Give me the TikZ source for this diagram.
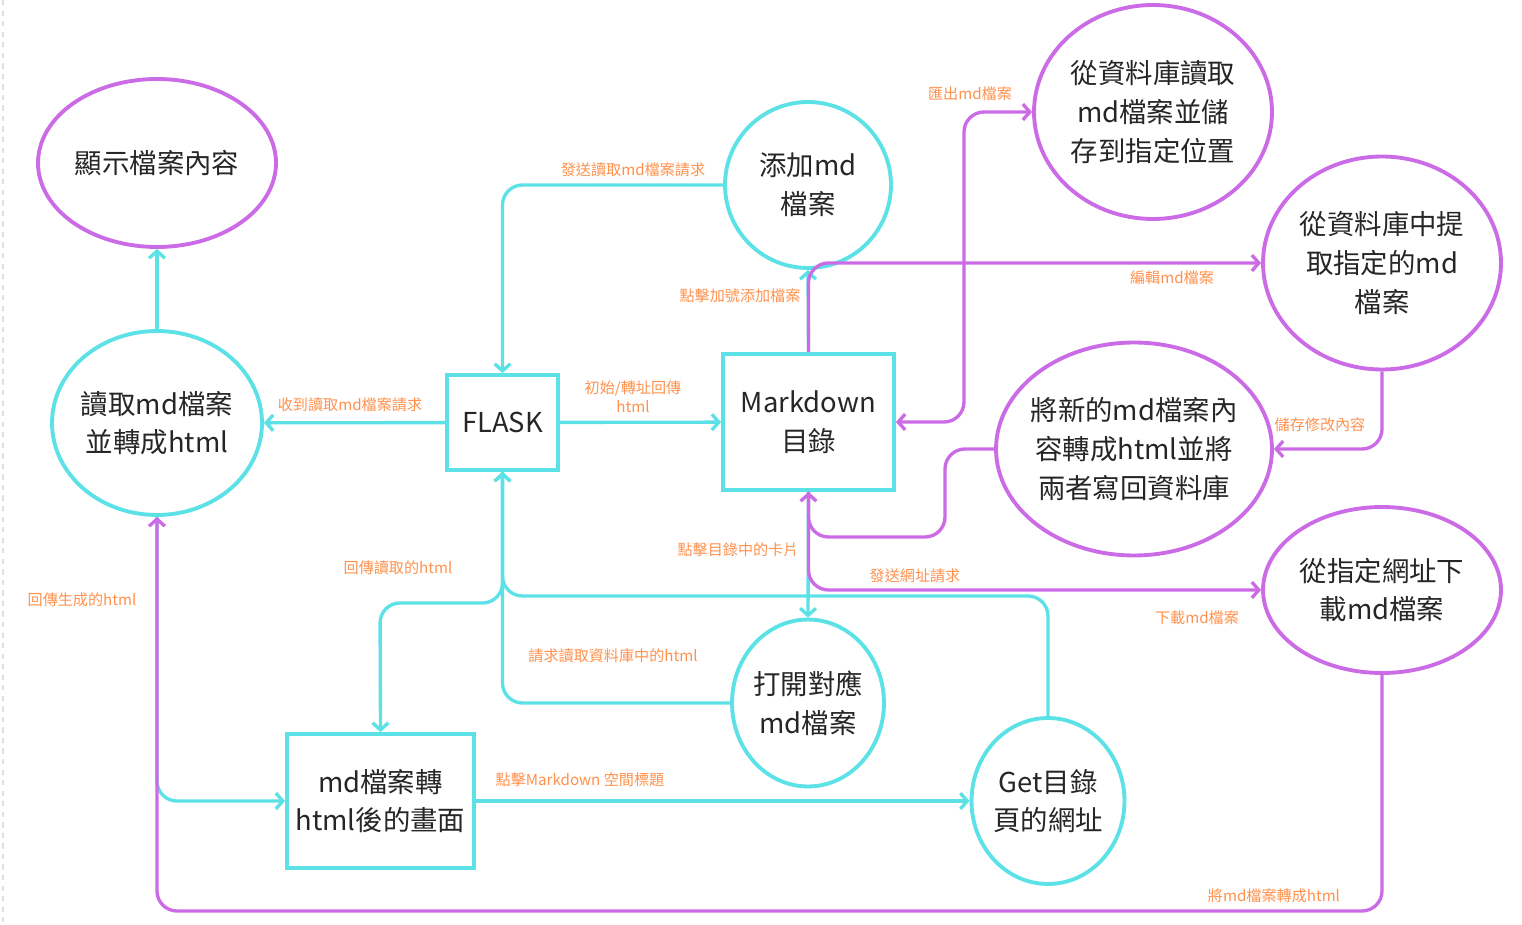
\documentclass[tikz,border=0pt]{standalone}
\usepackage{fontspec}
\newfontfamily\cjk{Noto Sans CJK TC}
\usepackage{xcolor}
\definecolor{colorFlow}{HTML}{5CE1E6}
\definecolor{colorEdit}{HTML}{CB6CE6}
\definecolor{colorLabel}{HTML}{FF914D}
\definecolor{colorText}{HTML}{262626}
\usepackage{tikz}
\usetikzlibrary{arrows.meta, shapes.geometric, positioning}
\tikzset{
  proc/.style={ellipse, draw, line width=2.2pt, inner sep=-4pt, align=center, text=colorText, font=\cjk\fontsize{15.6}{22}\selectfont},
  box/.style={rectangle, draw=colorFlow, line width=2.2pt, inner sep=0pt, align=center, text=colorText, font=\cjk\fontsize{15.6}{22}\selectfont},
  lbl/.style={inner sep=1pt, align=center, text=colorLabel, font=\cjk\fontsize{8.6}{11}\selectfont},
  flow/.style={->, colorFlow, rounded corners=0.4cm},
  edit/.style={->, colorEdit, rounded corners=0.4cm},
}

\begin{document}
\begin{tikzpicture}[x=0.02cm, y=-0.02cm, line width=1.9pt, >={Straight Barb[length=4pt,width=9pt]}]
\useasboundingbox (0,0) rectangle (1522,925);
\draw [black!12, dashed, line width=0.6pt] (3,0) -- (3,925);

% nodes
\node[proc, draw=colorEdit, minimum width=4.76cm, minimum height=3.36cm] (show) at (157,163) {顯示檔案內容};
\node[proc, draw=colorFlow, minimum width=4.2cm, minimum height=3.68cm] (read) at (157,423) {讀取md檔案\\並轉成html};
\node[box, minimum width=2.22cm, minimum height=1.9cm] (flask) at (502.5,422.5) {FLASK};
\node[box, minimum width=3.42cm, minimum height=2.72cm] (md) at (808.5,422) {Markdown\\目錄};
\node[proc, draw=colorFlow, minimum width=3.32cm, minimum height=3.32cm] (add) at (808,185) {添加md\\檔案};
\node[proc, draw=colorEdit, minimum width=4.76cm, minimum height=4.28cm] (export) at (1153,112) {從資料庫讀取\\md檔案並儲\\存到指定位置};
\node[proc, draw=colorEdit, minimum width=4.76cm, minimum height=4.26cm] (extract) at (1382,263) {從資料庫中提\\取指定的md\\檔案};
\node[proc, draw=colorEdit, minimum width=5.52cm, minimum height=4.26cm] (convert) at (1134,449) {將新的md檔案內\\容轉成html並將\\兩者寫回資料庫};
\node[proc, draw=colorEdit, minimum width=4.76cm, minimum height=3.32cm] (download) at (1382,590) {從指定網址下\\載md檔案};
\node[proc, draw=colorFlow, minimum width=3.04cm, minimum height=3.34cm] (open) at (808,703) {打開對應\\md檔案};
\node[proc, draw=colorFlow, minimum width=3.06cm, minimum height=3.32cm] (get) at (1048,801) {Get目錄\\頁的網址};
\node[box, minimum width=3.74cm, minimum height=2.68cm] (page) at (380.5,801) {md檔案轉\\html後的畫面};

\coordinate (jpage) at (380,603);
\coordinate (jget) at (700,596);
\coordinate (jexport) at (964,300);
\coordinate (jconvert) at (945,537);
\coordinate (jbottom) at (700,911);

% cyan connectors
\draw [flow] (read) -- (show);
\draw [flow] (flask) -- (read);
\draw [flow] (flask) -- (md);
\draw [flow] (add.west) -| (flask.north);
\draw [flow] (md.north) -- (add.south);
\draw [flow] (md.south) -- (open.north);
\draw [flow] (open.west) -| (flask.south);
\draw [flow] (get.north) |- (jget) -| (flask.south);
\draw [flow] (flask.south) |- (jpage) -- (page.north);
\draw [flow] (read.south) |- (page.west);
\draw [flow] (page) -- (get);

% purple connectors
\draw [edit] (md.north) |- (extract.west);
\draw [edit, <->] (md.east) -| (jexport) |- (export.west);
\draw [edit] (extract.south) |- (convert.east);
\draw [edit] (convert.west) -| (jconvert) -| (md.south);
\draw [edit] (md.south) |- (download.west);
\draw [edit] (download.south) |- (jbottom) -| (read.south);

% labels
\node[lbl] (l-send) at (633,170) {發送讀取md檔案請求};
\node[lbl] (l-plus) at (740,296) {點擊加號添加檔案};
\node[lbl] (l-export) at (970,94) {匯出md檔案};
\node[lbl] (l-edit) at (1172,278) {編輯md檔案};
\node[lbl] (l-recv) at (350,405) {收到讀取md檔案請求};
\node[lbl] (l-init) at (633,397) {初始/轉址回傳\\html};
\node[lbl] (l-save) at (1320,425) {儲存修改內容};
\node[lbl] (l-card) at (738,550) {點擊目錄中的卡片};
\node[lbl] (l-url) at (915,576) {發送網址請求};
\node[lbl] (l-back) at (398,568) {回傳讀取的html};
\node[lbl] (l-gen) at (82,600) {回傳生成的html};
\node[lbl] (l-down) at (1197,618) {下載md檔案};
\node[lbl] (l-req) at (613,656) {請求讀取資料庫中的html};
\node[lbl] (l-title) at (580,780) {點擊Markdown 空間標題};
\node[lbl] (l-tohtml) at (1274,896) {將md檔案轉成html};
\end{tikzpicture}
\end{document}
